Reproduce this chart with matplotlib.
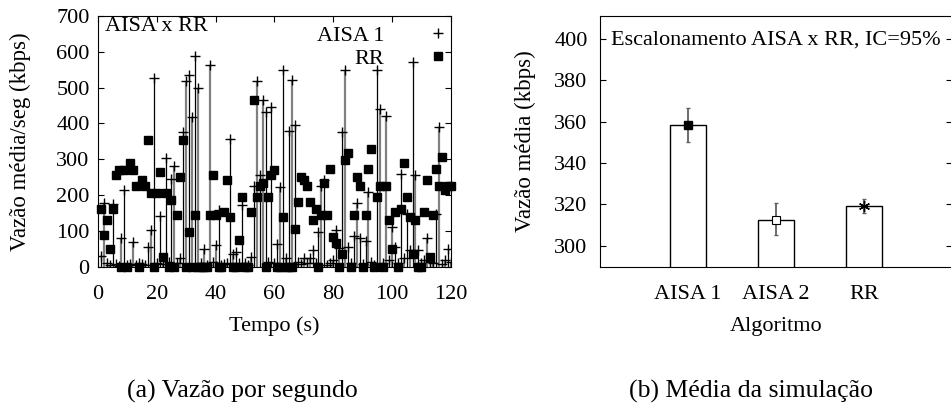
import numpy as np
import matplotlib
matplotlib.use("Agg")
import matplotlib.pyplot as plt

plt.rcParams["font.family"] = ["Liberation Serif", "DejaVu Serif"]
plt.rcParams["font.size"] = 16

# (a) vazao por segundo, t = 1..120 s
tempo = np.arange(1, 121)
aisa1 = [30, 179, 10, 5, 175, 8, 3, 80, 216, 5,
         8, 70, 5, 10, 8, 5, 55, 102, 526, 10,
         142, 8, 305, 15, 245, 282, 10, 25, 375, 518,
         535, 418, 588, 500, 10, 50, 5, 564, 15, 62,
         160, 5, 8, 10, 358, 36, 43, 10, 172, 12,
         5, 28, 225, 518, 256, 465, 432, 15, 445, 10,
         65, 222, 550, 25, 380, 522, 395, 15, 8, 25,
         12, 25, 48, 10, 98, 225, 243, 5, 10, 20,
         102, 52, 375, 548, 56, 10, 85, 179, 82, 8,
         72, 210, 15, 5, 548, 440, 12, 420, 20, 111,
         56, 10, 258, 25, 148, 48, 572, 256, 48, 12,
         20, 80, 15, 10, 148, 391, 8, 20, 50, 15]
rr = [161, 89, 131, 50, 161, 256, 270, 0, 270, 0,
      290, 270, 226, 0, 243, 226, 354, 207, 0, 207,
      264, 28, 207, 0, 186, 0, 144, 252, 354, 0,
      97, 0, 144, 0, 0, 0, 0, 144, 256, 144,
      0, 0, 153, 242, 139, 0, 0, 75, 195, 0,
      0, 153, 466, 195, 226, 233, 0, 195, 256, 270,
      0, 0, 139, 0, 0, 0, 106, 180, 252, 243,
      226, 180, 131, 161, 0, 145, 234, 145, 273, 83,
      67, 0, 36, 298, 319, 0, 145, 252, 226, 0,
      145, 273, 329, 0, 195, 226, 0, 226, 131, 50,
      153, 0, 163, 290, 195, 140, 36, 131, 0, 0,
      153, 243, 28, 145, 273, 226, 307, 215, 226, 226]

# (b) media da simulacao
algoritmos = ["AISA 1", "AISA 2", "RR"]
media = [358.2, 312.5, 319.3]
ic_baixo = [350.0, 305.0, 316.0]
ic_alto = [366.3, 320.5, 322.8]

fig = plt.figure(figsize=(9.51, 4.07), dpi=100)
ax1 = fig.add_axes([0.103, 0.344, 0.371, 0.617])
ax2 = fig.add_axes([0.631, 0.344, 0.370, 0.617])

cores = ["black", "#808080"]
for i, (t, v) in enumerate(zip(tempo, aisa1)):
    ax1.vlines(t, 0, v, color=cores[i % 2], lw=0.9 if i % 2 == 0 else 1.6, zorder=1)
ax1.plot(tempo, aisa1, ls="none", marker="+", ms=6.5, mew=1.0, color="black",
         label="AISA 1", zorder=3)
ax1.plot(tempo, rr, ls="none", marker="s", ms=5.2, color="black", label="RR",
         zorder=2, clip_on=False)
ax1.set_xlim(0, 120)
ax1.set_ylim(0, 700)
ax1.set_xticks(range(0, 121, 20))
ax1.set_yticks(range(0, 701, 100))
ax1.tick_params(direction="in", top=True, right=True, length=4)
ax1.tick_params(axis="x", pad=13)
ax1.tick_params(axis="y", pad=6)
ax1.set_xlabel("Tempo (s)", labelpad=9)
ax1.set_ylabel("Vazão média/seg (kbps)", fontsize=16.5, labelpad=18)
ax1.text(0.02, 0.995, "AISA x RR", transform=ax1.transAxes, ha="left", va="top")
leg = ax1.legend(loc="upper right", bbox_to_anchor=(0.995, 0.962), frameon=False,
                 markerfirst=False, handlelength=1.0, handletextpad=1.9,
                 labelspacing=0.1, borderaxespad=0.0, borderpad=0.0)
leg._legend_box.align = "right"
for vp in leg._legend_handle_box.get_children():
    vp.align = "right"

x = np.arange(1, len(algoritmos) + 1)
ax2.bar(x, media, width=0.4, color="white", edgecolor="black", lw=1.0, zorder=1)
erros = [np.array(media) - np.array(ic_baixo), np.array(ic_alto) - np.array(media)]
ax2.errorbar(x, media, yerr=erros, fmt="none", ecolor="#606060", elinewidth=1.3,
             capsize=1.5, zorder=2)
ax2.plot(x[0], media[0], ls="none", marker="s", ms=6, color="black", zorder=3)
ax2.plot(x[1], media[1], ls="none", marker="s", ms=6, mfc="white", mec="black",
         mew=0.8, zorder=3)
ax2.plot(x[2], media[2], ls="none", marker=(6, 2, 0), ms=8, color="black",
         mew=1.0, zorder=3)
ax2.set_xlim(0, 4)
ax2.set_ylim(289.8, 411)
ax2.set_xticks(x)
ax2.set_xticklabels(algoritmos)
ax2.set_yticks(range(300, 401, 20))
ax2.tick_params(direction="in", right=True, length=4, pad=9)
ax2.tick_params(axis="x", length=0, pad=13)
ax2.set_xlabel("Algoritmo", labelpad=9)
ax2.set_ylabel("Vazão média (kbps)", fontsize=16.5, labelpad=13)
ax2.text(0.03, 0.905, "Escalonamento AISA x RR, IC=95%", transform=ax2.transAxes,
         ha="left", va="center", clip_on=False)

fig.text(0.255, 0.037, "(a) Vazão por segundo", ha="center", va="center",
         fontsize=18.5)
fig.text(0.79, 0.037, "(b) Média da simulação", ha="center", va="center",
         fontsize=18.5)

fig.savefig("out.png", dpi=100)
